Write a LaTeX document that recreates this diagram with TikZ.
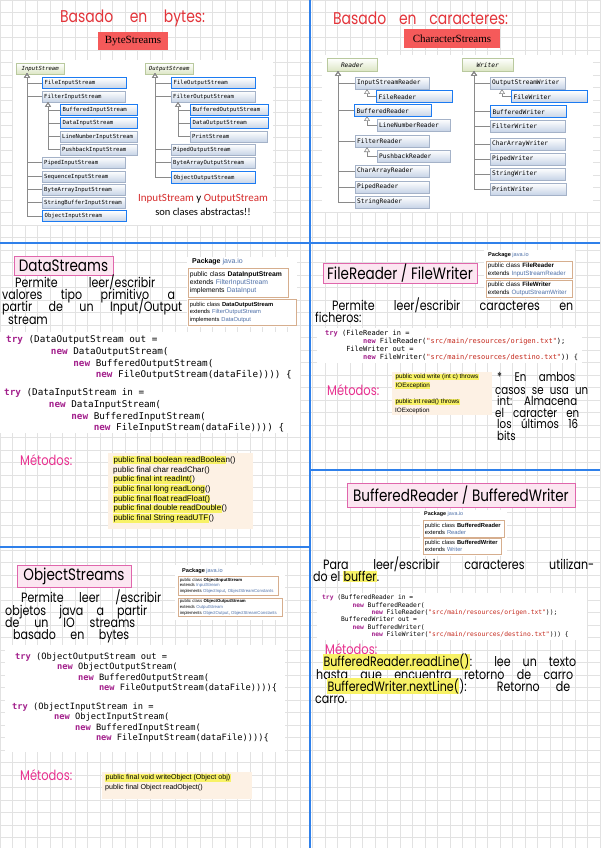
\documentclass[tikz,border=0pt]{standalone}
\usepackage{fontspec}
\setmainfont{Liberation Sans}
\newfontfamily\hand{Poppins}[FakeStretch=0.82]
\newfontfamily\codefont{DejaVu Sans Mono}
\newfontfamily\calib{Carlito}
\newfontfamily\labfont{Liberation Serif}
\usetikzlibrary{arrows.meta,positioning}

\definecolor{gridgray}{HTML}{E2E2E2}
\definecolor{divblue}{HTML}{2F80EA}
\definecolor{labred}{HTML}{F55A5A}
\definecolor{handred}{HTML}{E3343A}
\definecolor{pinkfill}{HTML}{FCE6F1}
\definecolor{pinkline}{HTML}{E066AC}
\definecolor{metmag}{HTML}{E8308F}
\definecolor{kwpurple}{HTML}{A3208C}
\definecolor{strred}{HTML}{C4281C}
\definecolor{linkblue}{HTML}{4E70A8}
\definecolor{tanline}{HTML}{D6AE8E}
\definecolor{peach}{HTML}{FDF1E4}
\definecolor{hlyellow}{HTML}{F8F266}
\definecolor{clsline}{HTML}{A4B2C8}
\definecolor{clsfill}{HTML}{C6D3E6}
\definecolor{rootline}{HTML}{B9C99E}
\definecolor{rootfill}{HTML}{DCE6C4}
\definecolor{hlblue}{HTML}{1C7BF2}
\definecolor{treegray}{HTML}{8A8A8A}
\definecolor{absred}{HTML}{D62B2B}

\newcommand\kw[1]{\textcolor{kwpurple}{\bfseries #1}}
\newcommand\str[1]{\textcolor{strred}{#1}}
\newcommand\lnk[1]{\textcolor{linkblue}{#1}}
\newcommand\hl[1]{{\setlength{\fboxsep}{0.4pt}\colorbox{hlyellow}{#1}}}
\newcommand\hw[2]{\makebox[#1][s]{#2}}
\newcommand\ind[1]{\hspace*{#1\fontcharwd\font`x}}

\begin{document}
\begin{tikzpicture}[x=1pt,y=-1pt,
  gridline/.style={draw=gridgray,line width=0.4pt},
  divider/.style={draw=divblue,line width=1.6pt},
  cls/.style={draw=clsline,top color=white,bottom color=clsfill,anchor=north west,
    inner xsep=2pt,inner ysep=0pt,text width=#1},
  root/.style={draw=rootline,top color=white,bottom color=rootfill,anchor=north west,
    inner xsep=2pt,inner ysep=0pt,minimum width=#1},
  hlbox/.style={draw=hlblue,line width=1.4pt},
  isa/.style={draw=treegray,line width=0.6pt,-{Triangle[open,width=6pt,length=5pt]}},
  redlabel/.style={fill=labred,font=\labfont\fontsize{11}{12}\selectfont,inner sep=0pt},
  title/.style={draw=pinkline,fill=pinkfill,line width=1pt,inner sep=0pt,
    font=\hand\fontsize{16.5}{18}\selectfont},
  hand/.style={anchor=west,inner sep=0pt,text height=8pt,text depth=2.5pt,
    font=\hand\fontsize{13.5}{14}\selectfont},
  bigred/.style={anchor=west,inner sep=0pt,text=handred,font=\hand\fontsize{17}{18}\selectfont},
  metodos/.style={anchor=west,inner sep=0pt,text=metmag,font=\hand\fontsize{14}{15}\selectfont},
  code/.style args={#1/#2}{anchor=north west,inner sep=0pt,align=left,
    font=\codefont\fontsize{#1}{#2}\selectfont},
  doc/.style args={#1/#2}{draw=tanline,fill=white,line width=0.6pt,anchor=north west,
    align=left,inner xsep=1.5pt,inner ysep=1pt,font=\fontsize{#1}{#2}\selectfont},
  pkg/.style={anchor=west,inner sep=0pt},
  metbox/.style={fill=peach},
  mettext/.style args={#1/#2}{anchor=north west,inner sep=0pt,align=left,
    font=\fontsize{#1}{#2}\selectfont}
]
\useasboundingbox (0,0) rectangle (600,848);
\fill[white] (0,0) rectangle (600,848);

% grid paper
\foreach \x in {0,12.5,...,600} \draw[gridline] (\x,0) -- (\x,848);
\foreach \y in {0,12.5,...,848} \draw[gridline] (0,\y) -- (600,\y);

% white patches (pasted screenshots)
\fill[white] (13,60) rectangle (273,225);
\fill[white] (322,55) rectangle (593,212);
\fill[white] (187,257) rectangle (297,327);
\fill[white] (0,332) rectangle (300,433);
\fill[white] (484,250) rectangle (575,299);
\fill[white] (317,328) rectangle (582,363);
\fill[white] (420,510) rectangle (507,556);
\fill[white] (317,593) rectangle (587,640);
\fill[white] (175,565) rectangle (285,620);
\fill[white] (5,645) rectangle (285,752);

% section borders
\draw[divider] (310,0) -- (310,848);
\draw[divider] (0,243) -- (600,243);
\draw[divider] (0,547) -- (310,547);
\draw[divider] (310,470) -- (600,470);

%%% Basado en bytes
\node[bigred] (tbytes) at (60,18) {\hw{145pt}{Basado en bytes:}};
\node[redlabel,minimum width=70pt,minimum height=18pt] (bstreams) at (133,41) {ByteStreams};

\begin{scope}[font=\codefont\fontsize{5.6}{6}\selectfont,minimum height=11pt]
\node[root=48pt,font=\codefont\itshape\fontsize{5.6}{6}\selectfont] (is) at (16,63) {InputStream};
\node[cls=80pt,hlbox] (fis) at (42,77) {FileInputStream};
\node[cls=79pt] (filis) at (42,91) {FilterInputStream};
\node[cls=73pt,hlbox] (bis) at (60,104) {BufferedInputStream};
\node[cls=73pt,hlbox] (dis) at (60,117) {DataInputStream};
\node[cls=73pt] (lnis) at (60,131) {LineNumberInputStream};
\node[cls=73pt] (pbis) at (60,144) {PushbackInputStream};
\node[cls=79pt] (pis) at (42,157) {PipedInputStream};
\node[cls=79pt] (sqis) at (42,171) {SequenceInputStream};
\node[cls=79pt] (bais) at (42,184) {ByteArrayInputStream};
\node[cls=79pt] (sbis) at (42,197) {StringBufferInputStream};
\node[cls=80pt,hlbox] (ois) at (42,210) {ObjectInputStream};

\node[root=48pt,font=\codefont\itshape\fontsize{5.6}{6}\selectfont] (os) at (145,63) {OutputStream};
\node[cls=80pt,hlbox] (fos) at (171,77) {FileOutputStream};
\node[cls=80pt] (filos) at (171,91) {FilterOutputStream};
\node[cls=74pt,hlbox] (bos) at (190,104) {BufferedOutputStream};
\node[cls=74pt,hlbox] (dos) at (190,117) {DataOutputStream};
\node[cls=73pt] (ps) at (190,131) {PrintStream};
\node[cls=80pt] (pos) at (171,144) {PipedOutputStream};
\node[cls=80pt] (baos) at (171,157) {ByteArrayOutputStream};
\node[cls=80pt,hlbox,minimum height=12pt] (oos) at (171,171) {ObjectOutputStream};
\end{scope}

\coordinate (is-s) at (27,73);
\coordinate (filis-s) at (48,102);
\coordinate (os-s) at (155,73);
\coordinate (filos-s) at (178,102);
\foreach \c in {fis,filis,pis,sqis,bais,sbis,ois} \draw[isa] (\c.west) -| (is-s);
\foreach \c in {bis,dis,lnis,pbis} \draw[isa] (\c.west) -| (filis-s);
\foreach \c in {fos,filos,pos,baos,oos} \draw[isa] (\c.west) -| (os-s);
\foreach \c in {bos,dos,ps} \draw[isa] (\c.west) -| (filos-s);

\node[font=\calib\fontsize{11}{12}\selectfont] (abs1) at (203,199)
  {\textcolor{absred}{InputStream} y \textcolor{absred}{OutputStream}};
\node[font=\calib\fontsize{10.5}{12}\selectfont] (abs2) at (203,212) {son clases abstractas!!};

%%% Basado en caracteres
\node[bigred] (tchars) at (333,18) {\hw{175pt}{Basado en caracteres:}};
\node[redlabel,minimum width=96pt,minimum height=19pt] (cstreams) at (452,38.5) {CharacterStreams};

\begin{scope}[font=\codefont\fontsize{6.2}{7}\selectfont,minimum height=12pt]
\node[root=50pt,minimum height=13pt,font=\codefont\itshape\fontsize{6.2}{7}\selectfont] (rd) at (327,58) {Reader};
\node[cls=70pt] (isr) at (355,77) {InputStreamReader};
\node[cls=72pt,hlbox] (fr) at (376,90) {FileReader};
\node[cls=73pt,hlbox] (br) at (354,104) {BufferedReader};
\node[cls=69pt] (lnr) at (377,119) {LineNumberReader};
\node[cls=70pt] (flr) at (355,135) {FilterReader};
\node[cls=69pt] (pbr) at (377,150) {PushbackReader};
\node[cls=70pt] (car) at (355,165) {CharArrayReader};
\node[cls=70pt] (pr) at (355,181) {PipedReader};
\node[cls=70pt] (sr) at (355,196) {StringReader};

\node[root=51pt,minimum height=13pt,font=\codefont\itshape\fontsize{6.2}{7}\selectfont] (wr) at (462,58) {Writer};
\node[cls=71pt] (osw) at (490,77) {OutputStreamWriter};
\node[cls=72pt,hlbox] (fw) at (511,90) {FileWriter};
\node[cls=72pt,hlbox] (bw) at (490,105) {BufferedWriter};
\node[cls=71pt] (flw) at (490,120) {FilterWriter};
\node[cls=71pt] (caw) at (490,138) {CharArrayWriter};
\node[cls=71pt] (pw) at (490,153) {PipedWriter};
\node[cls=71pt] (sw) at (490,168) {StringWriter};
\node[cls=72pt] (prw) at (490,183) {PrintWriter};
\end{scope}

\coordinate (rd-s) at (338,71);
\coordinate (isr-s) at (367,89);
\coordinate (br-s) at (367,116);
\coordinate (flr-s) at (367,147);
\coordinate (wr-s) at (474,71);
\coordinate (osw-s) at (502,89);
\foreach \c in {isr,br,flr,car,pr,sr} \draw[isa] (\c.west) -| (rd-s);
\draw[isa] (fr.west) -| (isr-s);
\draw[isa] (lnr.west) -| (br-s);
\draw[isa] (pbr.west) -| (flr-s);
\foreach \c in {osw,bw,flw,caw,pw,sw,prw} \draw[isa] (\c.west) -| (wr-s);
\draw[isa] (fw.west) -| (osw-s);

%%% DataStreams
\node[title,minimum width=99pt,minimum height=19pt] (dtitle) at (63.5,265.5) {DataStreams};
\node[hand] (d1) at (15,285) {\hw{140pt}{Permite leer/escribir}};
\node[hand] (d2) at (2,297) {\hw{173pt}{valores tipo primitivo a}};
\node[hand] (d3) at (2,309) {\hw{180pt}{partir de un Input/Output}};
\node[hand] (d4) at (8,322) {stream};

\node[pkg,font=\fontsize{7}{8}\selectfont] (dpkg) at (192,262) {\textbf{Package} \lnk{java.io}};
\node[doc=6.8/8.3,text width=97pt,minimum height=29pt] (ddis) at (188,268)
  {public class \textbf{DataInputStream}\\extends \lnk{FilterInputStream}\\implements \lnk{DataInput}};
\node[doc=5.8/7.5,text width=105pt,minimum height=26pt] (ddos) at (188,299)
  {public class \textbf{DataOutputStream}\\extends \lnk{FilterOutputStream}\\implements \lnk{DataOutput}};

\node[code=9.3/11.7] (dout) at (6,335.5)
  {\kw{try} (DataOutputStream out =\\\ind{8}\kw{new} DataOutputStream(\\\ind{12}\kw{new} BufferedOutputStream(\\\ind{16}\kw{new} FileOutputStream(dataFile)))) \{};
\node[code=9.3/11.7] (din) at (4,388.5)
  {\kw{try} (DataInputStream in =\\\ind{8}\kw{new} DataInputStream(\\\ind{12}\kw{new} BufferedInputStream(\\\ind{16}\kw{new} FileInputStream(dataFile)))) \{};

\node[metodos] (dmet) at (20,460) {\hw{68pt}{Métodos:}};
\fill[metbox] (108,453) rectangle (253,529);
\node[mettext=8/9.7] (dlist) at (113,456)
  {\hl{public final boolean readBoolea}n()\\public final char readChar()\\\hl{public final int readInt(})\\\hl{public final long readLong}()\\\hl{public final float readFloat()}\\\hl{public final double readDouble}()\\\hl{public final String readUTF}()};

%%% FileReader / FileWriter
\node[title,minimum width=154pt,minimum height=20pt] (ftitle) at (400,273) {FileReader / FileWriter};
\node[pkg,font=\fontsize{5.6}{6}\selectfont] (fpkg) at (488,255) {\textbf{Package} \lnk{java.io}};
\node[doc=6.2/7.5,text width=83pt,minimum height=17pt] (ffr) at (486,261)
  {public class \textbf{FileReader}\\extends \lnk{InputStreamReader}};
\node[doc=6.2/7.5,text width=83pt,minimum height=17pt] (ffw) at (486,280)
  {public class \textbf{FileWriter}\\extends \lnk{OutputStreamWriter}};
\node[hand] (f1) at (332,308) {\hw{241pt}{Permite leer/escribir caracteres en}};
\node[hand] (f2) at (315,320) {ficheros:};

\node[code=7/8.3] (fcode) at (325,329.5)
  {\kw{try} (FileReader in =\\\ind{9}\kw{new} FileReader(\str{"src/main/resources/origen.txt"});\\\ind{5}FileWriter out =\\\ind{9}\kw{new} FileWriter(\str{"src/main/resources/destino.txt"})) \{};

\node[metodos] (fmet) at (327,390) {\hw{60pt}{Métodos:}};
\fill[metbox] (392,372) rectangle (492,415);
\node[mettext=6.3/8.5] (fwrite) at (395,373.5) {\hl{public void write (int c) throws}\\\hl{IOException}};
\node[mettext=6.3/8.5] (fread) at (395,398.5) {\hl{public int read() throws}\\IOException};

\begin{scope}[every node/.style={hand,font=\hand\fontsize{12.5}{13}\selectfont}]
\node (n1) at (497,379) {\hw{78pt}{* En ambos}};
\node (n2) at (495,391.5) {\hw{93pt}{casos se usa un}};
\node (n3) at (497,403) {\hw{80pt}{int: Almacena}};
\node (n4) at (495,414.5) {\hw{84pt}{el caracter en}};
\node (n5) at (497,426) {\hw{81pt}{los últimos 16}};
\node (n6) at (497,437.5) {bits};
\end{scope}

%%% BufferedReader / BufferedWriter
\node[title,minimum width=228pt,minimum height=24pt] (btitle) at (461,495) {BufferedReader / BufferedWriter};
\node[pkg,font=\fontsize{5.4}{6}\selectfont] (bpkg) at (424,514) {\textbf{Package} \lnk{java.io}};
\node[doc=5.8/7,text width=78pt,minimum height=17pt] (bbr) at (423,520)
  {public class \textbf{BufferedReader}\\extends \lnk{Reader}};
\node[doc=5.8/7,text width=75pt,minimum height=16pt] (bbw) at (423,538)
  {public class \textbf{BufferedWriter}\\extends \lnk{Writer}};
\node[hand] (b1) at (323,567) {\hw{271pt}{Para leer/escribir caracteres utilizan-}};
\node[hand] (b2) at (313,579) {do el \hl{buffer}.};

\node[code=6.3/7.4] (bcode) at (322,594.8)
  {\kw{try} (BufferedReader in =\\\ind{8}\kw{new} BufferedReader(\\\ind{13}\kw{new} FileReader(\str{"src/main/resources/origen.txt"}));\\\ind{5}BufferedWriter out =\\\ind{8}\kw{new} BufferedWriter(\\\ind{13}\kw{new} FileWriter(\str{"src/main/resources/destino.txt"}))) \{};

\node[metodos] (bmet) at (325,649) {Métodos:};
\node[hand] (b3) at (323,664) {\hw{253pt}{\hl{BufferedReader.readLine()}: lee un texto}};
\node[hand] (b4) at (316,676.5) {\hw{257pt}{hasta que encuentra retorno de carro}};
\node[hand] (b5) at (327,688.5) {\hw{243pt}{\hl{BufferedWriter.nextLine(}): Retorno de}};
\node[hand] (b6) at (315,700.5) {carro.};

%%% ObjectStreams
\node[title,minimum width=114pt,minimum height=22pt] (otitle) at (74,576) {ObjectStreams};
\node[hand] (o1) at (21,600) {\hw{140pt}{Permite leer /escribir}};
\node[hand] (o2) at (5,612.5) {\hw{142pt}{objetos java a partir}};
\node[hand] (o3) at (5,624.5) {\hw{130pt}{de un IO streams}};
\node[hand] (o4) at (13,636.5) {\hw{116pt}{basado en bytes}};

\node[pkg,font=\fontsize{5.6}{6}\selectfont] (opkg) at (182,571) {\textbf{Package} \lnk{java.io}};
\node[doc=4.3/5.6,text width=97pt,minimum height=19pt] (ooi) at (178,576)
  {public class \textbf{ObjectInputStream}\\extends \lnk{InputStream}\\implements \lnk{ObjectInput}, \lnk{ObjectStreamConstants}};
\node[doc=4.3/5.6,text width=101pt,minimum height=18pt] (ooo) at (178,598)
  {public class \textbf{ObjectOutputStream}\\extends \lnk{OutputStream}\\implements \lnk{ObjectOutput}, \lnk{ObjectStreamConstants}};

\node[code=8.7/10.4] (oout) at (15,652.7)
  {\kw{try} (ObjectOutputStream out =\\\ind{8}\kw{new} ObjectOutputStream(\\\ind{12}\kw{new} BufferedOutputStream(\\\ind{16}\kw{new} FileOutputStream(dataFile))))\{};
\node[code=8.7/10.4] (oin) at (12,702.7)
  {\kw{try} (ObjectInputStream in =\\\ind{8}\kw{new} ObjectInputStream(\\\ind{12}\kw{new} BufferedInputStream(\\\ind{16}\kw{new} FileInputStream(dataFile))))\{};

\node[metodos] (omet) at (20,775) {\hw{68pt}{Métodos:}};
\fill[metbox] (102,772) rectangle (252,799);
\node[mettext=7.1/10] (olist) at (105,774)
  {\hl{public final void writeObject (Object obj)}\\public final Object readObject()};

\end{tikzpicture}
\end{document}
